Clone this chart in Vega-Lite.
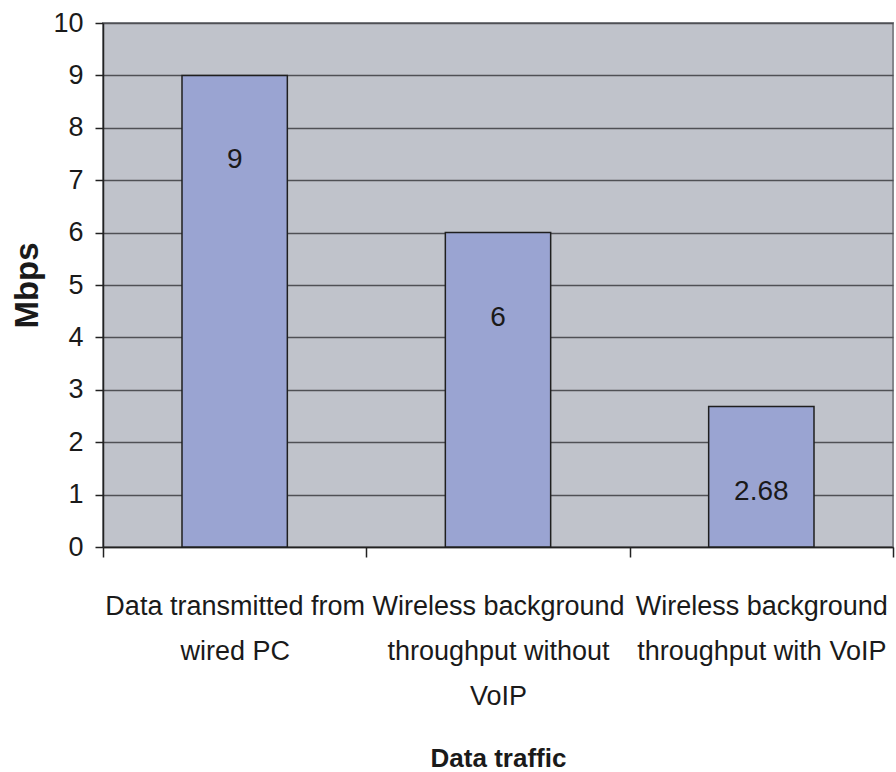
{
  "$schema": "https://vega.github.io/schema/vega-lite/v6.json",
  "autosize": {"type": "none"},
  "padding": {"left": 103, "top": 23, "right": 3, "bottom": 225},
  "width": 790,
  "height": 524,
  "background": "white",
  "config": {
    "view": {"fill": "#C0C3CB", "stroke": "#85878C", "strokeWidth": 2},
    "font": "Liberation Sans, Arial, sans-serif"
  },
  "data": {
    "values": [
      {"traffic": "Data transmitted from wired PC", "mbps": 9},
      {"traffic": "Wireless background throughput without VoIP", "mbps": 6},
      {"traffic": "Wireless background throughput with VoIP", "mbps": 2.68}
    ]
  },
  "encoding": {
    "x": {
      "field": "traffic",
      "type": "nominal",
      "sort": null,
      "scale": {"paddingInner": 0, "paddingOuter": 0},
      "axis": {
        "title": "Data traffic",
        "titleFont": "Liberation Sans, Arial, sans-serif",
        "titleFontSize": 26,
        "titleFontWeight": "bold",
        "titleColor": "#1a1a1a",
        "titleY": 211,
        "titleBaseline": "middle",
        "labelAngle": 0,
        "labelFont": "Liberation Sans, Arial, sans-serif",
        "labelFontSize": 27,
        "labelColor": "#1a1a1a",
        "labelLineHeight": 45,
        "labelBaseline": "top",
        "labelPadding": 36,
        "labelLimit": 0,
        "labelExpr": "datum.value == 'Data transmitted from wired PC' ? ['Data transmitted from', 'wired PC'] : datum.value == 'Wireless background throughput without VoIP' ? ['Wireless background', 'throughput without', 'VoIP'] : datum.value == 'Wireless background throughput with VoIP' ? ['Wireless background', 'throughput with VoIP'] : ''",
        "tickBand": "extent",
        "tickSize": 10,
        "tickColor": "#222222",
        "tickWidth": 1.5,
        "domainColor": "#222222",
        "domainWidth": 1.5,
        "grid": false
      }
    },
    "y": {
      "field": "mbps",
      "type": "quantitative",
      "scale": {"domain": [0, 10], "nice": false},
      "axis": {
        "title": "Mbps",
        "titleFont": "Liberation Sans, Arial, sans-serif",
        "titleFontSize": 33,
        "titleFontWeight": "bold",
        "titleColor": "#1a1a1a",
        "titleAngle": 270,
        "titleX": -76,
        "titleBaseline": "middle",
        "values": [0, 1, 2, 3, 4, 5, 6, 7, 8, 9, 10],
        "labelFont": "Liberation Sans, Arial, sans-serif",
        "labelFontSize": 27,
        "labelColor": "#1a1a1a",
        "labelPadding": 12,
        "tickSize": 8,
        "tickColor": "#222222",
        "tickWidth": 1.5,
        "domainColor": "#222222",
        "domainWidth": 1.5,
        "grid": true,
        "gridColor": "#4F5055",
        "gridWidth": 1.5
      }
    }
  },
  "layer": [
    {
      "mark": {"type": "bar", "width": {"band": 0.4}, "fill": "#9AA4D2", "stroke": "#1f1f1f", "strokeWidth": 1.5}
    },
    {
      "mark": {"type": "text", "dy": 85, "fontSize": 28, "color": "#1a1a1a", "font": "Liberation Sans, Arial, sans-serif"},
      "encoding": {"text": {"field": "mbps", "type": "quantitative"}}
    }
  ]
}
